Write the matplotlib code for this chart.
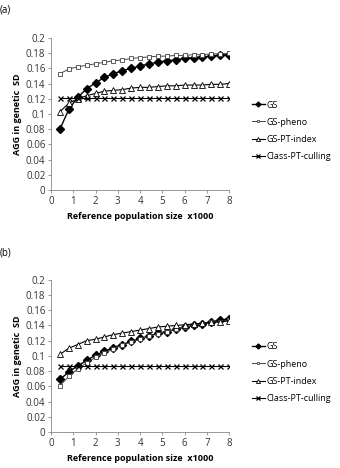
import matplotlib
matplotlib.use("Agg")
import matplotlib.pyplot as plt

#Reference population size (x1000)
ref_size = [0.4, 0.8, 1.2, 1.6, 2.0, 2.4, 2.8, 3.2, 3.6, 4.0,
            4.4, 4.8, 5.2, 5.6, 6.0, 6.4, 6.8, 7.2, 7.6, 8.0]

#panel (a)
gs_a = [0.080, 0.106, 0.122, 0.133, 0.141, 0.148, 0.153, 0.157, 0.160, 0.163,
        0.166, 0.168, 0.170, 0.171, 0.173, 0.174, 0.175, 0.176, 0.177, 0.178]
pheno_a = [0.153, 0.159, 0.162, 0.164, 0.166, 0.168, 0.170, 0.171, 0.173, 0.174,
           0.175, 0.176, 0.176, 0.177, 0.177, 0.178, 0.178, 0.179, 0.179, 0.180]
ptindex_a = [0.103, 0.114, 0.120, 0.124, 0.127, 0.130, 0.131, 0.132, 0.134, 0.135,
             0.135, 0.136, 0.137, 0.137, 0.138, 0.138, 0.138, 0.139, 0.139, 0.140]
culling_a = [0.121] * 20

#panel (b)
gs_b = [0.069, 0.079, 0.087, 0.094, 0.101, 0.106, 0.111, 0.115, 0.119, 0.123,
        0.126, 0.130, 0.132, 0.135, 0.138, 0.140, 0.142, 0.145, 0.147, 0.149]
pheno_b = [0.061, 0.073, 0.083, 0.091, 0.098, 0.104, 0.109, 0.114, 0.118, 0.122,
           0.126, 0.129, 0.132, 0.135, 0.138, 0.140, 0.142, 0.144, 0.145, 0.147]
ptindex_b = [0.102, 0.110, 0.115, 0.120, 0.122, 0.125, 0.128, 0.130, 0.132, 0.134,
             0.136, 0.138, 0.139, 0.140, 0.141, 0.142, 0.143, 0.144, 0.145, 0.146]
culling_b = [0.087] * 20

series_names = ["GS", "GS-pheno", "GS-PT-index", "Class-PT-culling"]
yticks = [0, 0.02, 0.04, 0.06, 0.08, 0.1, 0.12, 0.14, 0.16, 0.18, 0.2]
ytick_labels = ["0", "0.02", "0.04", "0.06", "0.08", "0.1", "0.12", "0.14", "0.16", "0.18", "0.2"]

plt.rcParams["font.family"] = ["Open Sans", "DejaVu Sans"]

fig = plt.figure(figsize=(3.4, 4.68), dpi=100)
ax_a = fig.add_axes([0.15, 0.594, 0.524, 0.325])
ax_b = fig.add_axes([0.15, 0.077, 0.524, 0.325])

def draw_panel(ax, gs, pheno, ptindex, culling):
    ax.plot(ref_size, gs, color="black", lw=1.0, marker="D", ms=3.6, mfc="black", label=series_names[0])
    ax.plot(ref_size, pheno, color="#444444", lw=0.7, marker="s", ms=3.0, mfc="white", mew=0.6, label=series_names[1])
    ax.plot(ref_size, ptindex, color="black", lw=0.8, marker="^", ms=4.2, mfc="white", mew=0.6, label=series_names[2])
    ax.plot(ref_size, culling, color="black", lw=0.8, marker="x", ms=3.6, mew=0.9, label=series_names[3])
    ax.set_xlim(0, 8)
    ax.set_ylim(0, 0.2)
    ax.set_xticks(range(0, 9))
    ax.set_yticks(yticks)
    ax.set_yticklabels(ytick_labels)
    ax.tick_params(labelsize=7, length=2, width=0.6, color="#888888", pad=2, labelcolor="#333333")
    for s in ["top", "right"]:
        ax.spines[s].set_visible(False)
    for s in ["left", "bottom"]:
        ax.spines[s].set_color("#888888")
        ax.spines[s].set_linewidth(0.6)
    ax.set_xlabel("Reference population size  x1000", fontsize=6.5, fontweight="bold", labelpad=4)
    ax.set_ylabel("AGG in genetic  SD", fontsize=6.5, fontweight="bold", labelpad=3)
    ax.legend(loc="center left", bbox_to_anchor=(1.08, 0.39), frameon=False, fontsize=6.5,
              handlelength=1.5, handletextpad=0.2, labelspacing=0.9, markerscale=0.7)

draw_panel(ax_a, gs_a, pheno_a, ptindex_a, culling_a)
draw_panel(ax_b, gs_b, pheno_b, ptindex_b, culling_b)

fig.text(0.0, 1 - 10 / 468, "(a)", fontsize=7, va="center")
fig.text(0.0, 1 - 253 / 468, "(b)", fontsize=7, va="center")

plt.savefig("out.png", dpi=100)
